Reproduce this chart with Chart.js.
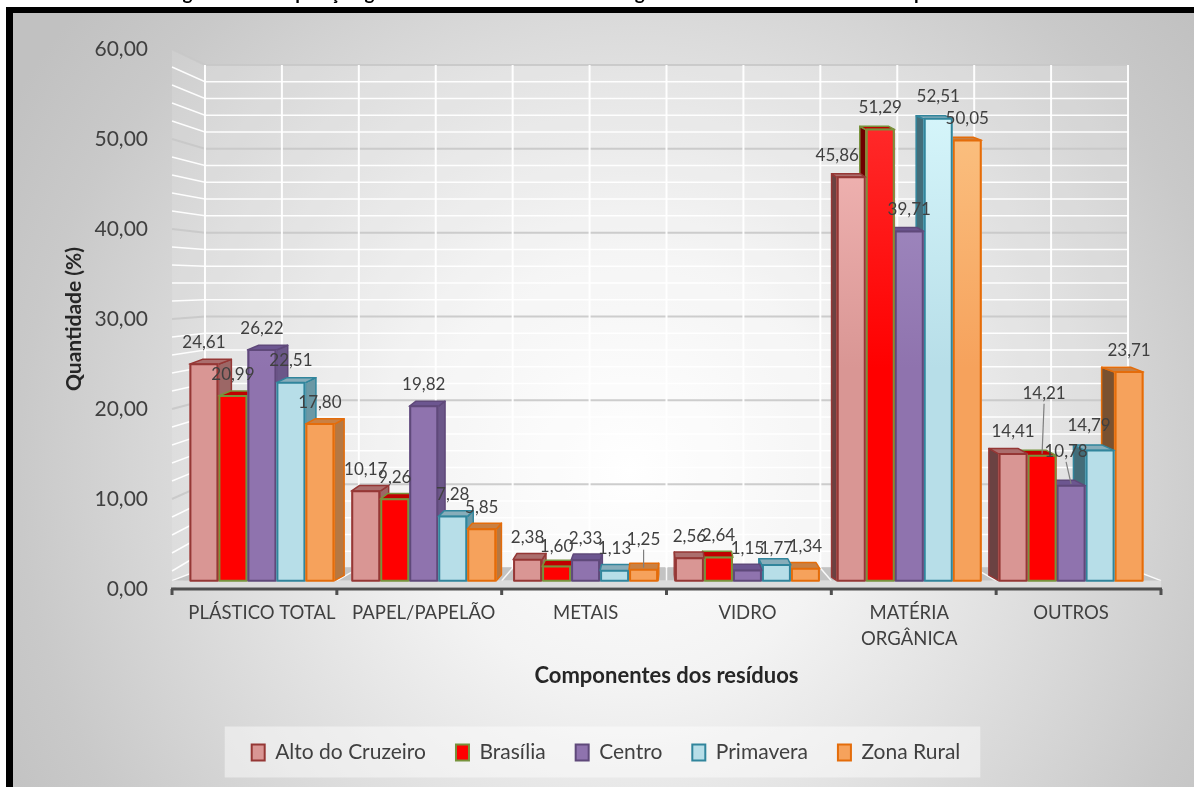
<!DOCTYPE html>
<html lang="pt-BR">
<head>
<meta charset="utf-8">
<title>Composição gravimétrica</title>
<script src="https://cdn.jsdelivr.net/npm/chart.js@4.4.1/dist/chart.umd.min.js"></script>
<style>
  html, body { margin: 0; padding: 0; background: #ffffff; }
  #wrap { position: relative; width: 1194px; height: 787px; }
  canvas { display: block; }
</style>
</head>
<body>
<div id="wrap"><canvas id="chart" width="1194" height="787"></canvas></div>
<script>
// Components of the waste (x categories)
const categories = ['PLÁSTICO TOTAL', 'PAPEL/PAPELÃO', 'METAIS', 'VIDRO', ['MATÉRIA', 'ORGÂNICA'], 'OUTROS'];

// Share of each component (%) per region
const altoDoCruzeiro = [24.61, 10.17, 2.38, 2.56, 45.86, 14.41];
const brasilia       = [20.99,  9.26, 1.60, 2.64, 51.29, 14.21];
const centro         = [26.22, 19.82, 2.33, 1.15, 39.71, 10.78];
const primavera      = [22.51,  7.28, 1.13, 1.77, 52.51, 14.79];
const zonaRural      = [17.80,  5.85, 1.25, 1.34, 50.05, 23.71];

const regionNames = ['Alto do Cruzeiro', 'Brasília', 'Centro', 'Primavera', 'Zona Rural'];
const regionValues = [altoDoCruzeiro, brasilia, centro, primavera, zonaRural];

// Value axis tick range
const yTickMin = 0;
const yTickMax = 60;
const yTickStep = 10;

const chartTitle = 'Figura 10: Composição gravimétrica dos resíduos das regiões estudadas da cidade de Arapiraca';

// Colours for each region: front face, lit top of the front, outline, top face,
// lit right-hand side face, shaded left-hand side face
const palette = [
  { front: '#d99694', light: '#fbc1c0', border: '#953735', top: '#ab6e6d', sideR: '#9c6766', sideL: '#6b4242' },
  { front: '#ff0000', light: '#ff3636', border: '#77933c', top: '#c00000', sideR: '#a00000', sideL: '#6e0000' },
  { front: '#8f73ae', light: '#ad9acd', border: '#5f497a', top: '#6c5690', sideR: '#6b5789', sideL: '#4c3c66' },
  { front: '#b7dee8', light: '#ddfbff', border: '#31859c', top: '#87adba', sideR: '#6b98a5', sideL: '#436d79' },
  { front: '#f6a25c', light: '#fcc98b', border: '#e46c0a', top: '#c98043', sideR: '#b57843', sideL: '#7a5130' }
];

// Label nudges (px) for crowded data labels, keyed "series:category"
const labelNudges = {
  '0:4': { dx: -14, dy: 0 },
  '1:2': { dx: 0, dy: 2 },
  '1:5': { dx: 2, dy: -40, leader: true },
  '2:5': { dx: -5, dy: -12, leader: true },
  '3:3': { dx: 0, dy: 5 },
  '3:5': { dx: -11, dy: -3 },
  '4:2': { dx: 0, dy: -8, leader: true }
};

const FONT = 'Lato, "Open Sans", sans-serif';
const TEXT = '#404040';

// perspective widening/narrowing of the front and back planes around the centre
const FRONT_K = 1.0185;
const BACK_K = 0.9506;

const fmt = v => v.toFixed(2).replace('.', ',');

function poly(ctx, pts) {
  ctx.beginPath();
  ctx.moveTo(pts[0][0], pts[0][1]);
  for (let i = 1; i < pts.length; i++) ctx.lineTo(pts[i][0], pts[i][1]);
  ctx.closePath();
}

const scene = {
  id: 'scene',
  beforeDraw(chart) {
    const ctx = chart.ctx;
    const W = chart.width, H = chart.height;
    ctx.save();
    ctx.fillStyle = '#ffffff';
    ctx.fillRect(0, 0, W, H);

    // panel background
    const g = ctx.createRadialGradient(630, 470, 0, 630, 470, 720);
    g.addColorStop(0, '#ffffff');
    g.addColorStop(0.3, '#f3f3f3');
    g.addColorStop(0.85, '#c9c9c9');
    g.addColorStop(1, '#c1c1c1');
    ctx.fillStyle = g;
    ctx.fillRect(13, 13, W - 13, H - 13);

    // black frame
    ctx.fillStyle = '#000000';
    ctx.fillRect(6, 7, W - 6, 6);
    ctx.fillRect(6, 7, 7, H - 7);

    // caption above the frame (only its lowest strokes fall on the page)
    ctx.font = 'bold 19px ' + FONT;
    ctx.fillStyle = '#000000';
    ctx.textAlign = 'center';
    ctx.textBaseline = 'alphabetic';
    ctx.fillText(chartTitle, 566, 0);

    // legend panel
    const lg = chart.legend;
    if (lg && lg.legendItems) {
      const lo = chart.options.plugins.legend.labels;
      ctx.font = lo.font.size + 'px ' + FONT;
      let total = 0;
      lg.legendItems.forEach((it, k) => {
        total += lo.boxWidth + lo.font.size / 2 + ctx.measureText(it.text).width + (k ? lo.padding : 0);
      });
      const midX = (lg.left + lg.right) / 2;
      const rowY = lg.top + lo.padding + lo.font.size / 2;
      ctx.fillStyle = 'rgba(255,255,255,0.45)';
      ctx.fillRect(midX - total / 2 - 27, rowY - 26, total + 47, 51);
    }
    ctx.restore();
  },
  beforeDatasetsDraw(chart) {
    const ctx = chart.ctx;
    const area = chart.chartArea;
    const xs = chart.scales.x, yBar = chart.scales.y, yFront = chart.scales.yTicks, yWall = chart.scales.yWall;
    const cx = (area.left + area.right) / 2;
    const fx = p => cx + (p - cx) * FRONT_K;
    const bx = p => cx + (p - cx) * BACK_K;
    const wallL = bx(area.left), wallR = bx(area.right);
    const sideX = fx(area.left);
    const half = (xs.getPixelForValue(1) - xs.getPixelForValue(0)) / 2;

    ctx.save();
    // back wall
    ctx.fillStyle = 'rgba(255,255,255,0.18)';
    ctx.fillRect(wallL, yWall.getPixelForValue(yTickMax), wallR - wallL, yWall.getPixelForValue(0) - yWall.getPixelForValue(yTickMax));
    // side wall
    poly(ctx, [[sideX, yFront.getPixelForValue(yTickMax)], [wallL, yWall.getPixelForValue(yTickMax)],
               [wallL, yWall.getPixelForValue(0)], [sideX, yFront.getPixelForValue(0)]]);
    ctx.fillStyle = 'rgba(255,255,255,0.12)';
    ctx.fill();

    // horizontal grid on walls every 2 units
    for (let v = 0; v <= yTickMax; v += 2) {
      const major = v % yTickStep === 0;
      ctx.strokeStyle = major ? 'rgba(200,200,200,0.9)' : 'rgba(255,255,255,0.95)';
      ctx.lineWidth = major ? 2 : 1.5;
      const yb = yWall.getPixelForValue(v);
      ctx.beginPath();
      ctx.moveTo(sideX, yFront.getPixelForValue(v));
      ctx.lineTo(wallL, yb);
      ctx.lineTo(wallR, yb);
      ctx.stroke();
    }
    // vertical grid on back wall, every half category
    ctx.strokeStyle = 'rgba(255,255,255,0.95)';
    ctx.lineWidth = 2;
    for (let k = 0; k <= categories.length * 2; k++) {
      const p = bx(area.left + k * half);
      ctx.beginPath();
      ctx.moveTo(p, yWall.getPixelForValue(yTickMax));
      ctx.lineTo(p, yWall.getPixelForValue(0));
      ctx.stroke();
    }

    // floor
    const floorFront = yBar.getPixelForValue(0);
    const floorBack = yWall.getPixelForValue(0);
    poly(ctx, [[fx(area.left), floorFront], [fx(area.right), floorFront], [wallR, floorBack], [wallL, floorBack]]);
    ctx.fillStyle = '#c3c3c3';
    ctx.fill();
    ctx.strokeStyle = 'rgba(255,255,255,0.9)';
    ctx.lineWidth = 1.5;
    for (let k = 0; k <= categories.length * 2; k++) {
      const p = area.left + k * half;
      ctx.beginPath();
      ctx.moveTo(fx(p), floorFront);
      ctx.lineTo(bx(p), floorBack);
      ctx.stroke();
    }
    // floor lip
    ctx.fillStyle = '#dcdcdc';
    ctx.fillRect(fx(area.left), floorFront, fx(area.right) - fx(area.left), area.bottom - 2 - floorFront);

    // category axis line with tick marks at the front
    ctx.strokeStyle = '#4f4f4f';
    ctx.lineWidth = 3;
    ctx.beginPath();
    ctx.moveTo(fx(area.left) - 1, area.bottom);
    ctx.lineTo(fx(area.right) + 1, area.bottom);
    ctx.stroke();
    for (let k = 0; k <= categories.length; k++) {
      const p = fx(area.left + k * 2 * half);
      ctx.beginPath();
      ctx.moveTo(p, area.bottom);
      ctx.lineTo(p, area.bottom + 6);
      ctx.stroke();
    }

    // bars with top and side faces
    const grads = palette.map(p => {
      const g = ctx.createLinearGradient(0, floorFront, 0, area.top);
      g.addColorStop(0, p.front);
      g.addColorStop(0.4, p.front);
      g.addColorStop(1, p.light);
      return g;
    });
    for (let i = 0; i < categories.length; i++) {
      const items = chart.data.datasets.map((ds, d) => ({ d, el: chart.getDatasetMeta(d).data[i] }));
      if (xs.getPixelForValue(i) > cx) items.reverse();
      items.forEach(({ d, el }) => {
        const p = palette[d];
        const w = el.width, xl = el.x - w / 2, xr = el.x + w / 2, top = el.y, b = el.base;
        const dx = (cx - el.x) * 0.028;
        const dy = 3 + (top - 100) * 0.007;
        ctx.lineJoin = 'round';
        ctx.strokeStyle = p.border;
        ctx.lineWidth = 1.5;
        const sx = dx >= 0 ? xr : xl;
        poly(ctx, [[sx, top], [sx + dx, top - dy], [sx + dx, b - dy], [sx, b]]);
        ctx.fillStyle = dx >= 0 ? p.sideR : p.sideL;
        ctx.fill();
        ctx.stroke();
        poly(ctx, [[xl, top], [xr, top], [xr + dx, top - dy], [xl + dx, top - dy]]);
        ctx.fillStyle = p.top;
        ctx.fill();
        ctx.stroke();
        ctx.fillStyle = grads[d];
        ctx.fillRect(xl, top, w, b - top);
        ctx.lineWidth = 2;
        ctx.strokeRect(xl + 1, top, w - 2, b - top);
      });
    }
    ctx.restore();
    return false;
  },
  afterDraw(chart) {
    const ctx = chart.ctx;
    ctx.save();
    ctx.font = '17px ' + FONT;
    ctx.fillStyle = TEXT;
    ctx.textAlign = 'center';
    ctx.textBaseline = 'middle';
    chart.data.datasets.forEach((ds, d) => {
      const meta = chart.getDatasetMeta(d);
      meta.data.forEach((el, i) => {
        const n = labelNudges[d + ':' + i] || { dx: 0, dy: 0 };
        const x = el.x + n.dx;
        const y = el.y - 22 + n.dy;
        if (n.leader) {
          ctx.strokeStyle = '#7f7f7f';
          ctx.lineWidth = 1.2;
          ctx.beginPath();
          ctx.moveTo(x, y + 10);
          ctx.lineTo(el.x, el.y - 2);
          ctx.stroke();
        }
        ctx.fillText(fmt(ds.data[i]), x, y);
      });
    });
    ctx.restore();
  }
};

const datasets = regionNames.map((name, d) => ({
  label: name,
  data: regionValues[d],
  backgroundColor: palette[d].front,
  borderColor: palette[d].border,
  borderWidth: 2,
  yAxisID: 'y'
}));

new Chart(document.getElementById('chart'), {
  type: 'bar',
  data: { labels: categories, datasets },
  plugins: [scene],
  options: {
    responsive: false,
    devicePixelRatio: 1,
    animation: false,
    layout: { padding: { top: 49, left: 60, right: 42, bottom: 14 } },
    datasets: { bar: { categoryPercentage: 0.896, barPercentage: 1.0 } },
    scales: {
      x: {
        type: 'category',
        offset: true,
        grid: { display: false, drawTicks: false },
        border: { display: false },
        ticks: { color: TEXT, font: { family: FONT, size: 18.5, lineHeight: 1.42 }, padding: 11, maxRotation: 0, autoSkip: false },
        title: { display: true, text: 'Componentes dos resíduos', color: '#262626',
                 font: { family: FONT, size: 22, weight: 'bold' }, padding: { top: 0, bottom: 23 } },
        afterFit(s) { s.height = 123; }
      },
      y: {
        type: 'linear', position: 'left', display: false,
        min: -0.95, max: 60.45
      },
      yWall: {
        type: 'linear', position: 'left', display: false,
        min: -2.5, max: 61.9
      },
      yTicks: {
        type: 'linear', position: 'left',
        min: yTickMin, max: yTickMax,
        grid: { display: false, drawTicks: false },
        border: { display: false },
        ticks: { stepSize: yTickStep, color: TEXT, font: { family: FONT, size: 21 }, padding: 33,
                 callback: v => fmt(v) },
        title: { display: true, text: 'Quantidade (%)', color: '#262626',
                 font: { family: FONT, size: 21, weight: 'bold' }, padding: { top: 2, bottom: 0 } },
        afterFit(s) { s.width = 121; }
      }
    },
    plugins: {
      legend: {
        position: 'bottom',
        labels: { color: TEXT, font: { family: FONT, size: 21 }, boxWidth: 13, boxHeight: 16, padding: 30 }
      },
      tooltip: { enabled: false },
      title: { display: false }
    }
  }
});
</script>
</body>
</html>
